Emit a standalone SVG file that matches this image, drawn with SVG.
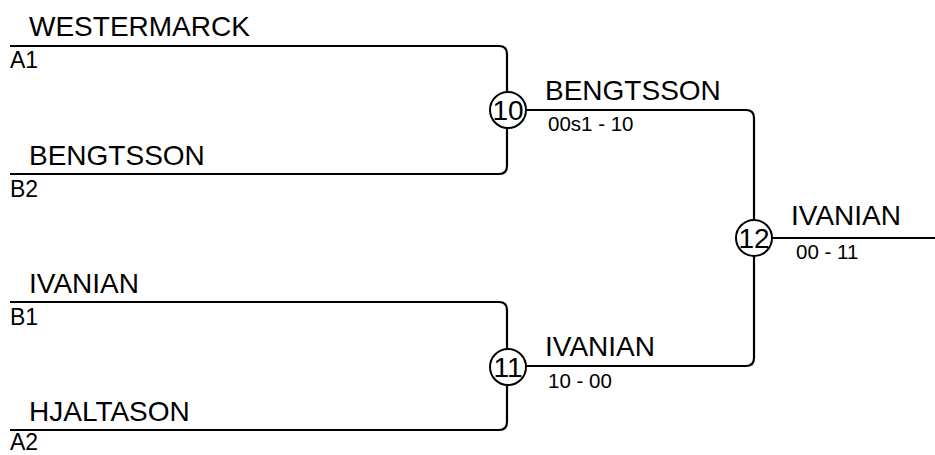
<svg xmlns="http://www.w3.org/2000/svg" width="935" height="455" viewBox="0 0 935 455">
<style>
.ln{fill:none;stroke:#000;stroke-width:2.2}
.nd{fill:#fff;stroke:#000;stroke-width:2}
.nm{font-family:"Liberation Sans",Arial,sans-serif;font-size:28px;fill:#000}
.sd{font-family:"Liberation Sans",Arial,sans-serif;font-size:23px;fill:#000}
.sc{font-family:"Liberation Sans",Arial,sans-serif;font-size:20.5px;fill:#000}
.cn{font-family:"Liberation Sans",Arial,sans-serif;font-size:28px;fill:#000;text-anchor:middle}
</style>
<rect width="935" height="455" fill="#fff"/>
<g id="connectors">
<path class="ln" d="M10,46 H499 Q507,46 507,54 V166 Q507,174 499,174 H10"/>
<path class="ln" d="M10,302 H499 Q507,302 507,310 V422 Q507,430 499,430 H10"/>
<path class="ln" d="M507,110 H746 Q754,110 754,118 V358 Q754,366 746,366 H507"/>
<path class="ln" d="M754,238 H935"/>
</g>
<g id="entry-a1">
<text class="nm" x="29" y="36">WESTERMARCK</text>
<text class="sd" x="10" y="68">A1</text>
</g>
<g id="entry-b2">
<text class="nm" x="29" y="165">BENGTSSON</text>
<text class="sd" x="10" y="197">B2</text>
</g>
<g id="entry-b1">
<text class="nm" x="29" y="293">IVANIAN</text>
<text class="sd" x="10" y="325">B1</text>
</g>
<g id="entry-a2">
<text class="nm" x="29" y="421">HJALTASON</text>
<text class="sd" x="10" y="450">A2</text>
</g>
<g id="match-10">
<circle class="nd" cx="508" cy="110" r="18"/>
<text class="cn" x="508" y="120">10</text>
<text class="nm" x="545" y="100">BENGTSSON</text>
<text class="sc" x="548" y="131">00s1 - 10</text>
</g>
<g id="match-11">
<circle class="nd" cx="508" cy="367" r="18"/>
<text class="cn" x="508" y="377">11</text>
<text class="nm" x="545" y="356">IVANIAN</text>
<text class="sc" x="548" y="388">10 - 00</text>
</g>
<g id="match-12">
<circle class="nd" cx="754" cy="238" r="18"/>
<text class="cn" x="754" y="248">12</text>
<text class="nm" x="791" y="225">IVANIAN</text>
<text class="sc" x="796" y="259">00 - 11</text>
</g>
</svg>
